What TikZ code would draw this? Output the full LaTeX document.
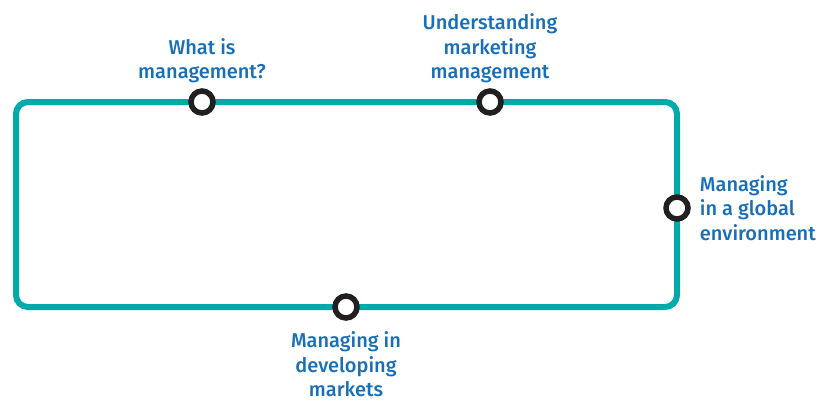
\documentclass[tikz,border=0pt]{standalone}
\usepackage{fontspec}
\setmainfont{Fira Sans Medium}
\usetikzlibrary{positioning}
\definecolor{loopteal}{RGB}{0,170,168}
\definecolor{labelblue}{RGB}{24,111,184}
\definecolor{ringblack}{RGB}{35,31,32}

\begin{document}
\begin{tikzpicture}[x=1pt,y=-1pt,node distance=6pt,
        stop/.style={circle,draw=ringblack,line width=5.5pt,fill=white,minimum size=22pt,inner sep=0pt},
        topic/.style={text=labelblue,font=\fontsize{20}{24.5}\selectfont,align=center,inner sep=0pt}]
    \useasboundingbox (0,0) rectangle (822,404);

    % the loop
    \draw[loopteal,line width=6pt,rounded corners=12pt] (16,102) rectangle (677,307);

    % stops on the loop
    \node[stop] (what) at (202,102) {};
    \node[stop] (understanding) at (490,102) {};
    \node[stop] (global) at (677,208) {};
    \node[stop] (developing) at (346,307) {};

    % topics
    \node[topic] (what label) [above=5pt of what] {What is\\management?};
    \node[topic] (understanding label) [above=5pt of understanding] {Understanding\\marketing\\management};
    \node[topic, align=left] (global label) [right=9pt of global] {Managing\\in a global\\environment};
    \node[topic] (developing label) [below=11pt of developing] {Managing in\\developing\\markets};
\end{tikzpicture}
\end{document}
